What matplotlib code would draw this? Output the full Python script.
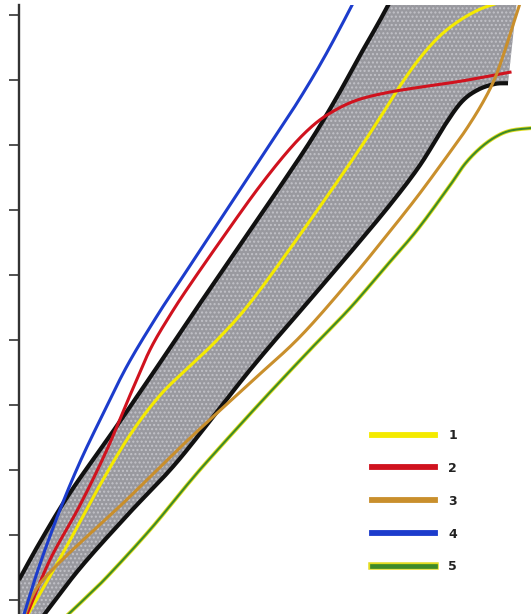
import matplotlib.pyplot as plt
import matplotlib.patheffects as pe
import numpy as np

# curve data (x: distance units, y: tick units)
upper_x = [0, 2.1, 5.1, 9.7, 14.1, 18.0, 22.1, 25.4, 29.1, 31.8, 34.1, 36.1, 37.7]
upper_y = [0.31, 0.89, 1.65, 2.66, 3.65, 4.54, 5.46, 6.20, 7.05, 7.74, 8.38, 8.92, 9.38]

lower_x = [1.9, 6.1, 11.1, 16.0, 23.1, 29.1, 33.1, 37.1, 40.1, 42.6, 44.3, 45.9, 47.6, 48.9]
lower_y = [-0.35, 0.49, 1.35, 2.16, 3.54, 4.62, 5.34, 6.08, 6.69, 7.31, 7.67, 7.85, 7.94, 7.95]

s1_x = [0.9, 2.6, 5.1, 8.1, 11.1, 14.1, 17.1, 19.8, 23.1, 28.1, 33.1, 36.1, 38.1, 40.1, 42.1, 44.1, 46.1, 47.8, 48.6]
s1_y = [-0.22, 0.23, 0.92, 1.77, 2.54, 3.15, 3.60, 4.00, 4.57, 5.62, 6.72, 7.42, 7.91, 8.34, 8.68, 8.92, 9.09, 9.18, 9.23]

s2_x = [0.8, 3.1, 6.0, 8.7, 11.1, 13.1, 15.1, 17.1, 20.4, 23.8, 26.8, 29.1, 31.1, 33.6, 36.6, 40.1, 44.1, 49.1]
s2_y = [-0.22, 0.62, 1.43, 2.28, 3.15, 3.85, 4.38, 4.85, 5.58, 6.31, 6.89, 7.26, 7.49, 7.68, 7.80, 7.89, 7.98, 8.12]

s3_x = [0.6, 1.4, 2.4, 5.0, 10.0, 13.6, 17.3, 23.1, 28.1, 33.1, 36.4, 39.8, 43.1, 44.8, 46.4, 47.6, 48.6, 49.4, 50.1, 50.4]
s3_y = [-0.22, 0.08, 0.31, 0.72, 1.43, 1.97, 2.52, 3.34, 4.05, 4.92, 5.54, 6.20, 6.89, 7.26, 7.66, 8.03, 8.46, 8.85, 9.18, 9.35]

s4_x = [0.5, 2.0, 4.0, 6.0, 8.1, 10.8, 13.8, 16.1, 18.8, 22.1, 25.4, 28.1, 30.6, 33.3, 33.9]
s4_y = [-0.22, 0.51, 1.35, 2.09, 2.77, 3.60, 4.37, 4.91, 5.54, 6.31, 7.08, 7.72, 8.37, 9.15, 9.35]

s5_x = [4.3, 6.1, 8.7, 13.1, 16.8, 19.1, 24.1, 29.1, 33.1, 36.4, 39.8, 43.1, 44.6, 46.1, 47.6, 49.1, 51.2, 52.1]
s5_y = [-0.31, -0.05, 0.34, 1.08, 1.77, 2.18, 3.03, 3.85, 4.49, 5.08, 5.69, 6.38, 6.71, 6.95, 7.12, 7.22, 7.26, 7.26]

band_corner_x = [49.9]
band_corner_y = [9.38]

labels = ['1', '2', '3', '4', '5']
colors = ['#f4ea00', '#d0121e', '#c98f2c', '#1c3ccc', '#3d8a28']
yticks = np.arange(0, 10)


def smooth(x, y):
    # Catmull-Rom pass through the traced points
    x = np.asarray(x, float)
    y = np.asarray(y, float)
    px = np.concatenate([[2 * x[0] - x[1]], x, [2 * x[-1] - x[-2]]])
    py = np.concatenate([[2 * y[0] - y[1]], y, [2 * y[-1] - y[-2]]])
    out_x, out_y = [], []
    t = np.linspace(0, 1, 20, endpoint=False)
    for i in range(1, len(px) - 2):
        for arr, out in ((px, out_x), (py, out_y)):
            p0, p1, p2, p3 = arr[i - 1], arr[i], arr[i + 1], arr[i + 2]
            out.extend(0.5 * (2 * p1 + (-p0 + p2) * t + (2 * p0 - 5 * p1 + 4 * p2 - p3) * t ** 2
                              + (-p0 + 3 * p1 - 3 * p2 + p3) * t ** 3))
    out_x.append(x[-1])
    out_y.append(y[-1])
    return np.array(out_x), np.array(out_y)


fig = plt.figure(figsize=(5.31, 6.14), dpi=100)
ax = fig.add_axes([19 / 531, 0, 512 / 531, 609 / 614])
ax.set_xlim(0, 51.2)
ax.set_ylim(-0.215, 9.154)

ux, uy = smooth(upper_x, upper_y)
lx, ly = smooth(lower_x, lower_y)

# shaded band between the two black bounds
poly_x = np.concatenate([[0, 0], ux, band_corner_x, lx[::-1]])
poly_y = np.concatenate([[-0.4, upper_y[0]], uy, band_corner_y, ly[::-1]])
plt.rcParams['hatch.linewidth'] = 1.0
ax.fill(poly_x, poly_y, facecolor='#99999f', edgecolor='#c2c2c8', hatch='....', linewidth=0, zorder=1)
ax.plot(ux, uy, color='#111111', lw=3.0, zorder=3, solid_capstyle='butt')
ax.plot(lx, ly, color='#111111', lw=3.0, zorder=3, solid_capstyle='butt')

series = [(s1_x, s1_y), (s2_x, s2_y), (s3_x, s3_y), (s4_x, s4_y), (s5_x, s5_y)]
handles = []
for (sx, sy), c, lab in zip(series, colors, labels):
    cx, cy = smooth(sx, sy)
    if lab == '5':
        h, = ax.plot(cx, cy, color=c, lw=1.5, zorder=5, label=lab,
                     path_effects=[pe.Stroke(linewidth=2.8, foreground='#e2dc20'), pe.Normal()])
    else:
        h, = ax.plot(cx, cy, color=c, lw=2.2, zorder=5, label=lab)
    handles.append(h)

leg = ax.legend(handles=handles, labels=labels, loc='upper left', bbox_to_anchor=(0.68, 0.312),
                frameon=False, handlelength=5.0, handletextpad=1.1, labelspacing=1.59,
                prop={'size': 9, 'weight': 'bold'}, borderaxespad=0)
for line in leg.get_lines():
    line.set_linewidth(4.2)
leg.get_lines()[4].set_path_effects([pe.Stroke(linewidth=5.4, foreground='#e2dc20'), pe.Normal()])
leg.get_lines()[4].set_linewidth(3.4)
for txt in leg.get_texts():
    txt.set_color('#222222')

for side in ['top', 'right', 'bottom']:
    ax.spines[side].set_visible(False)
ax.spines['left'].set_color('#333333')
ax.spines['left'].set_linewidth(1.7)
ax.set_yticks(yticks)
ax.set_yticklabels([])
ax.set_xticks([])
ax.tick_params(axis='y', direction='out', length=7.5, width=1.2, color='#333333')

fig.savefig('out.png', dpi=100)
